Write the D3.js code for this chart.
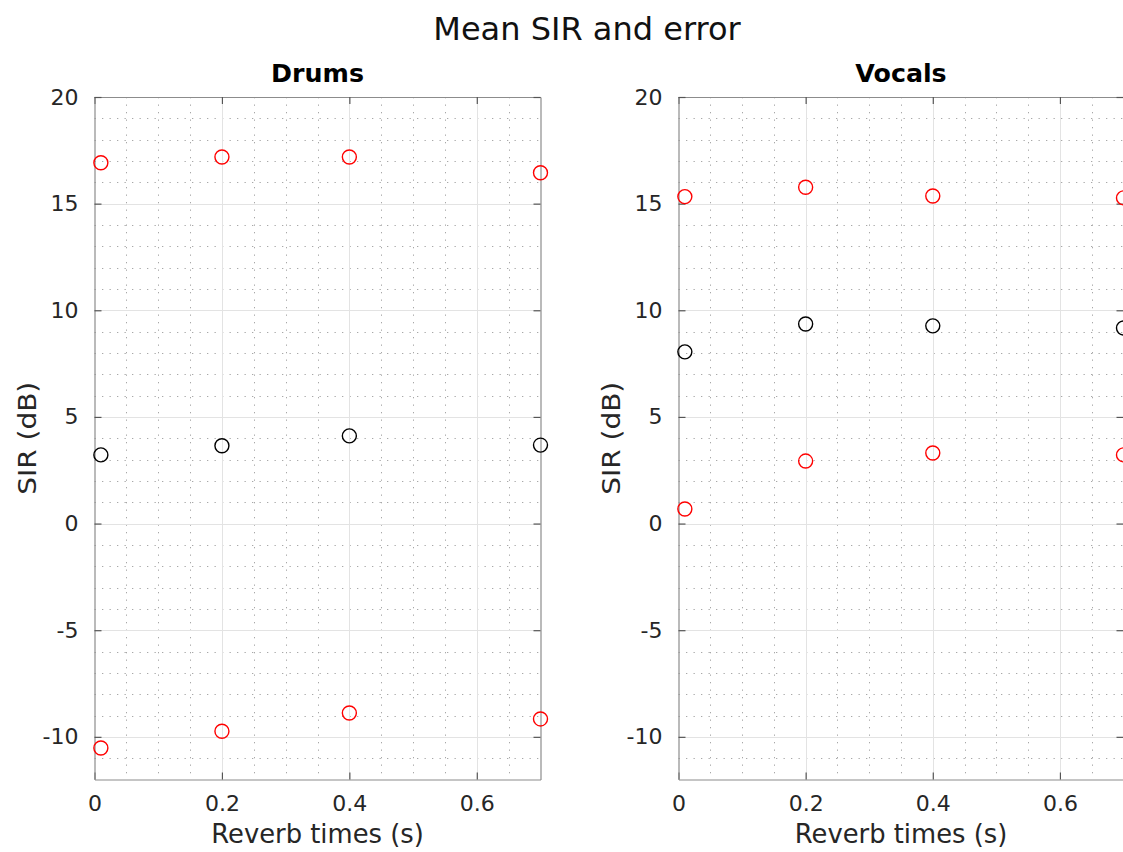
<!DOCTYPE html>
<html>
<head>
<meta charset="utf-8">
<script src="https://cdn.jsdelivr.net/npm/d3@7"></script>
<style>
  html, body { margin: 0; padding: 0; background: #fff; }
  svg { display: block; font-family: "DejaVu Sans", sans-serif; }
</style>
</head>
<body>
<svg id="chart" width="1123" height="852"></svg>
<script>
// Reverb times (s) at which SIR was measured
const reverbTimes = [0.01, 0.2, 0.4, 0.7];

// Drums: mean SIR and mean ± error (dB)
const drumsMean  = [3.22, 3.65, 4.11, 3.68];
const drumsUpper = [16.92, 17.19, 17.19, 16.45];
const drumsLower = [-10.52, -9.74, -8.88, -9.16];

// Vocals: mean SIR and mean ± error (dB)
const vocalsMean  = [8.05, 9.36, 9.27, 9.17];
const vocalsUpper = [15.33, 15.77, 15.36, 15.27];
const vocalsLower = [0.68, 2.93, 3.31, 3.22];

const xTicks = [0, 0.2, 0.4, 0.6];
const yTicks = [-10, -5, 0, 5, 10, 15, 20];
const xDomain = [0, 0.7];
const yDomain = [-12, 20];

const panels = [
  { title: "Drums",  mean: drumsMean,  upper: drumsUpper,  lower: drumsLower,  left: 94.5,  right: 540.5 },
  { title: "Vocals", mean: vocalsMean, upper: vocalsUpper, lower: vocalsLower, left: 678.5, right: 1123.5 }
];

const plotTop = 97, plotBottom = 779.5;
const svg = d3.select("#chart");

const axisColor = "#8c8c8c";
const textColor = "#262626";

svg.append("text")
  .attr("x", 587).attr("y", 40)
  .attr("text-anchor", "middle")
  .attr("font-size", 32)
  .attr("fill", "#111")
  .text("Mean SIR and error");

panels.forEach(p => {
  const x = d3.scaleLinear().domain(xDomain).range([p.left, p.right]);
  const y = d3.scaleLinear().domain(yDomain).range([plotBottom, plotTop]);
  const g = svg.append("g");

  // minor grid (dotted)
  const xMinor = d3.range(0.05, 0.7, 0.05).filter(v => Math.abs(v / 0.2 - Math.round(v / 0.2)) > 1e-6);
  const yMinor = d3.range(-11, 20, 1).filter(v => v % 5 !== 0);
  g.selectAll(".xminor").data(xMinor).join("line")
    .attr("x1", d => Math.round(x(d)) + 0.5).attr("x2", d => Math.round(x(d)) + 0.5)
    .attr("y1", plotTop).attr("y2", plotBottom)
    .attr("stroke", "#a8a8a8").attr("stroke-width", 1)
    .attr("stroke-dasharray", "1.3,6.2");
  g.selectAll(".yminor").data(yMinor).join("line")
    .attr("x1", p.left).attr("x2", p.right)
    .attr("y1", d => Math.round(y(d)) + 0.5).attr("y2", d => Math.round(y(d)) + 0.5)
    .attr("stroke", "#a8a8a8").attr("stroke-width", 1)
    .attr("stroke-dasharray", "1.3,6.2");

  // major grid
  g.selectAll(".xmajor").data(xTicks.slice(1)).join("line")
    .attr("x1", d => Math.round(x(d)) + 0.5).attr("x2", d => Math.round(x(d)) + 0.5)
    .attr("y1", plotTop).attr("y2", plotBottom)
    .attr("stroke", "#e3e3e3").attr("stroke-width", 1);
  g.selectAll(".ymajor").data(yTicks).join("line")
    .attr("x1", p.left).attr("x2", p.right)
    .attr("y1", d => Math.round(y(d)) + 0.5).attr("y2", d => Math.round(y(d)) + 0.5)
    .attr("stroke", "#e3e3e3").attr("stroke-width", 1);

  // axes (ticks inward, box on)
  const xAxis = d3.axisBottom(x).tickValues(xTicks).tickSizeInner(-7).tickSizeOuter(0).tickPadding(16).tickFormat(d3.format(""));
  const xAxisTop = d3.axisTop(x).tickValues(xTicks).tickSizeInner(-7).tickSizeOuter(0).tickFormat("");
  const yAxis = d3.axisLeft(y).tickValues(yTicks).tickSizeInner(-7).tickSizeOuter(0).tickPadding(16).tickFormat(d => String(d));
  const yAxisRight = d3.axisRight(y).tickValues(yTicks).tickSizeInner(-7).tickSizeOuter(0).tickFormat("");

  const styleAxis = sel => {
    sel.select(".domain").attr("stroke", axisColor).attr("stroke-width", 1.2);
    sel.selectAll(".tick line").attr("stroke", "#555").attr("stroke-width", 1.2);
    sel.selectAll(".tick text").attr("fill", textColor).attr("font-size", 22)
      .attr("font-family", "DejaVu Sans, sans-serif");
  };

  g.append("g").attr("transform", `translate(0,${plotBottom})`).call(xAxis).call(styleAxis);
  g.append("g").attr("transform", `translate(0,${plotTop})`).call(xAxisTop).call(styleAxis);
  g.append("g").attr("transform", `translate(${p.left},0)`).call(yAxis).call(styleAxis);
  g.append("g").attr("transform", `translate(${p.right},0)`).call(yAxisRight).call(styleAxis);

  // panel title
  g.append("text")
    .attr("x", (p.left + p.right) / 2).attr("y", 82)
    .attr("text-anchor", "middle")
    .attr("font-size", 25.3).attr("font-weight", "bold")
    .attr("fill", "#000")
    .text(p.title);

  // axis labels
  g.append("text")
    .attr("x", (p.left + p.right) / 2).attr("y", 843)
    .attr("text-anchor", "middle")
    .attr("font-size", 25.8).attr("fill", textColor)
    .text("Reverb times (s)");
  g.append("text")
    .attr("transform", `translate(${p.left - 59},${(plotTop + plotBottom) / 2}) rotate(-90) scale(1.1,1)`)
    .attr("text-anchor", "middle")
    .attr("font-size", 25.4).attr("fill", textColor)
    .text("SIR (dB)");

  // markers
  const marks = [
    { vals: p.upper, color: "#ff0000" },
    { vals: p.lower, color: "#ff0000" },
    { vals: p.mean,  color: "#000000" }
  ];
  marks.forEach(m => {
    g.selectAll(null).data(reverbTimes.map((t, i) => [t, m.vals[i]])).join("circle")
      .attr("cx", d => x(d[0])).attr("cy", d => y(d[1]))
      .attr("r", 7)
      .attr("fill", "none")
      .attr("stroke", m.color).attr("stroke-width", 1.4);
  });
});
</script>
</body>
</html>
